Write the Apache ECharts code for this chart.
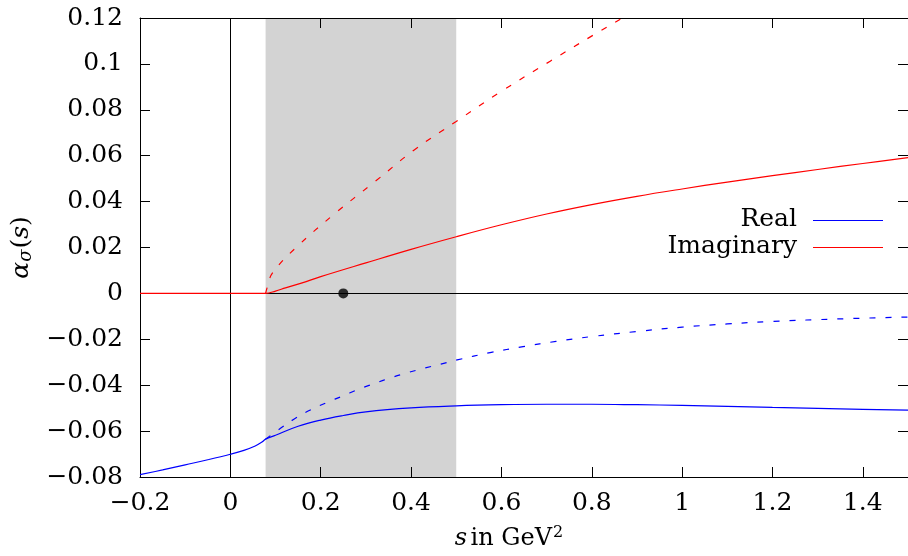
<!DOCTYPE html>
<html>
<head>
<meta charset="utf-8">
<script src="https://cdn.jsdelivr.net/npm/echarts@6/dist/echarts.min.js"></script>
<style>
  html, body { margin: 0; padding: 0; background: #fff; }
  #chart { width: 908px; height: 556px; }
</style>
</head>
<body>
<div id="chart"></div>
<script>
// alpha_sigma(s): real and imaginary parts, s in GeV^2
const realSolidS = [-0.2, -0.15, -0.1, -0.05, 0, 0.03, 0.055, 0.07, 0.078, 0.1, 0.15, 0.2, 0.25, 0.3, 0.4, 0.5, 0.6, 0.7, 0.8, 0.9, 1.0, 1.2, 1.4, 1.5];
const realSolidV = [-0.079, -0.0769, -0.0747, -0.0725, -0.0701, -0.0684, -0.0665, -0.0648, -0.0635, -0.0618, -0.0579, -0.0552, -0.0532, -0.0516, -0.0499, -0.049, -0.0485, -0.0483, -0.0483, -0.0485, -0.0488, -0.0497, -0.0505, -0.0509];

const realDashS = [0.078, 0.111, 0.144, 0.177, 0.213, 0.25, 0.283, 0.32, 0.356, 0.393, 0.429, 0.466, 0.502, 0.575, 0.648, 0.721, 0.8, 0.9, 1.0, 1.1, 1.2, 1.35, 1.5];
const realDashV = [-0.0635, -0.0588, -0.0544, -0.0508, -0.0476, -0.0446, -0.0418, -0.0392, -0.0367, -0.0345, -0.0326, -0.0308, -0.029, -0.0258, -0.0232, -0.0209, -0.0188, -0.0166, -0.0147, -0.0133, -0.0122, -0.0111, -0.0103];

const imagSolidS = [-0.2, 0.078, 0.1, 0.122, 0.159, 0.2, 0.3, 0.4, 0.5, 0.6, 0.7, 0.8, 0.9, 1.0, 1.1, 1.2, 1.3, 1.4, 1.5];
const imagSolidV = [0, 0, 0.001, 0.0024, 0.0046, 0.0073, 0.0133, 0.0192, 0.0247, 0.0299, 0.0346, 0.0387, 0.0423, 0.0455, 0.0485, 0.0513, 0.054, 0.0566, 0.0592];

const imagDashS = [0.078, 0.082, 0.093, 0.144, 0.232, 0.32, 0.407, 0.499, 0.598, 0.708, 0.803, 0.868, 0.9];
const imagDashV = [0, 0.0029, 0.0088, 0.0197, 0.0349, 0.0487, 0.0625, 0.0748, 0.0878, 0.1012, 0.1125, 0.12, 0.1236];

// two-pion threshold to 0.5 GeV^2 band, and the pole marker
const shadeBand = [0.078, 0.5];
const polePoint = [0.25, 0];

const legendNames = ['Real', 'Imaginary'];
const xTicks = { min: -0.2, max: 1.5, step: 0.2 };
const yTicks = { min: -0.08, max: 0.12, step: 0.02 };

const FONT = 'DejaVu Serif';
const BLUE = '#0000ff';
const RED = '#ff0000';

const zip = (xs, ys) => xs.map((x, i) => [x, ys[i]]);
const fmt = v => String(+(+v).toFixed(3)).replace('-', '\u2212');

const chart = echarts.init(document.getElementById('chart'), null, { renderer: 'canvas' });

const tickStyle = { show: true, inside: true, length: 10, lineStyle: { color: '#000', width: 1 } };
const lineAxis = { show: true, onZero: false, lineStyle: { color: '#000', width: 1 } };
const labelStyle = { color: '#000', fontFamily: FONT, fontSize: 25 };

function curve(name, xs, ys, color, dashed) {
  return {
    name: name,
    type: 'line',
    data: zip(xs, ys),
    smooth: 0.4,
    symbol: 'none',
    showSymbol: false,
    z: 3,
    clip: true,
    lineStyle: { color: color, width: 1.2, type: dashed ? [6, 10] : 'solid' },
    itemStyle: { color: color },
    emphasis: { disabled: true }
  };
}

chart.setOption({
  animation: false,
  backgroundColor: '#fff',
  grid: { left: 140, right: -6, top: 18, bottom: 79, containLabel: false },
  xAxis: [{
    type: 'value',
    min: xTicks.min, max: xTicks.max, interval: xTicks.step,
    position: 'bottom',
    axisLine: lineAxis,
    axisTick: tickStyle,
    splitLine: { show: false },
    axisLabel: Object.assign({ margin: 14, formatter: fmt, showMaxLabel: false }, labelStyle),
    name: '{i|s} {t|in GeV}{sup|2}',
    nameLocation: 'middle',
    nameGap: 48,
    nameTextStyle: {
      padding: [0, 30, 0, 0],
      rich: {
        i: { fontFamily: FONT, fontSize: 24, fontStyle: 'italic', color: '#000' },
        t: { fontFamily: FONT, fontSize: 24, color: '#000' },
        sup: { fontFamily: FONT, fontSize: 16, color: '#000', verticalAlign: 'top', padding: [0, 0, 12, 1] }
      }
    }
  }, {
    type: 'value',
    min: xTicks.min, max: xTicks.max, interval: xTicks.step,
    position: 'top',
    axisLine: lineAxis,
    axisTick: tickStyle,
    splitLine: { show: false },
    axisLabel: { show: false }
  }],
  yAxis: [{
    type: 'value',
    min: yTicks.min, max: yTicks.max, interval: yTicks.step,
    position: 'left',
    axisLine: lineAxis,
    axisTick: tickStyle,
    splitLine: { show: false },
    axisLabel: Object.assign({ margin: 17, formatter: fmt }, labelStyle),
    name: '{a|\u03b1}{b|\u03c3}{c|(}{d|s}{c|)}',
    nameLocation: 'middle',
    nameRotate: 90,
    nameGap: 100,
    nameTextStyle: {
      rich: {
        a: { fontFamily: FONT, fontSize: 25, fontStyle: 'italic', color: '#000' },
        b: { fontFamily: FONT, fontSize: 18, fontStyle: 'italic', color: '#000', padding: [10, 1, 0, 0] },
        c: { fontFamily: FONT, fontSize: 25, color: '#000' },
        d: { fontFamily: FONT, fontSize: 25, fontStyle: 'italic', color: '#000' }
      }
    }
  }, {
    type: 'value',
    min: yTicks.min, max: yTicks.max, interval: yTicks.step,
    position: 'right',
    axisLine: lineAxis,
    axisTick: tickStyle,
    splitLine: { show: false },
    axisLabel: { show: false }
  }],
  series: [
    {
      name: 'frame',
      type: 'line',
      data: [],
      z: 1,
      silent: true,
      markArea: {
        z: 0,
        silent: true,
        itemStyle: { color: '#d3d3d3' },
        data: [[{ xAxis: shadeBand[0] }, { xAxis: shadeBand[1] }]]
      },
      markLine: {
        z: 1,
        silent: true,
        symbol: 'none',
        label: { show: false },
        lineStyle: { color: '#000', width: 1, type: 'solid' },
        data: [{ xAxis: 0 }, { yAxis: 0 }]
      }
    },
    curve(legendNames[0], realSolidS, realSolidV, BLUE, false),
    curve(legendNames[0] + ' (dashed)', realDashS, realDashV, BLUE, true),
    curve(legendNames[1], imagSolidS, imagSolidV, RED, false),
    curve(legendNames[1] + ' (dashed)', imagDashS, imagDashV, RED, true),
    {
      name: 'pole',
      type: 'scatter',
      data: [polePoint],
      symbol: 'circle',
      symbolSize: 10,
      z: 4,
      itemStyle: { color: '#000' },
      emphasis: { disabled: true }
    }
  ],
  graphic: [
    { type: 'text', x: 797, y: 219, style: { text: legendNames[0], fontFamily: FONT, fontSize: 25, fill: '#000', align: 'right', verticalAlign: 'middle' } },
    { type: 'line', shape: { x1: 813, y1: 220.5, x2: 883, y2: 220.5 }, style: { stroke: BLUE, lineWidth: 1.2 } },
    { type: 'text', x: 797, y: 246, style: { text: legendNames[1], fontFamily: FONT, fontSize: 25, fill: '#000', align: 'right', verticalAlign: 'middle' } },
    { type: 'line', shape: { x1: 813, y1: 247.5, x2: 883, y2: 247.5 }, style: { stroke: RED, lineWidth: 1.2 } }
  ]
});
</script>
</body>
</html>
